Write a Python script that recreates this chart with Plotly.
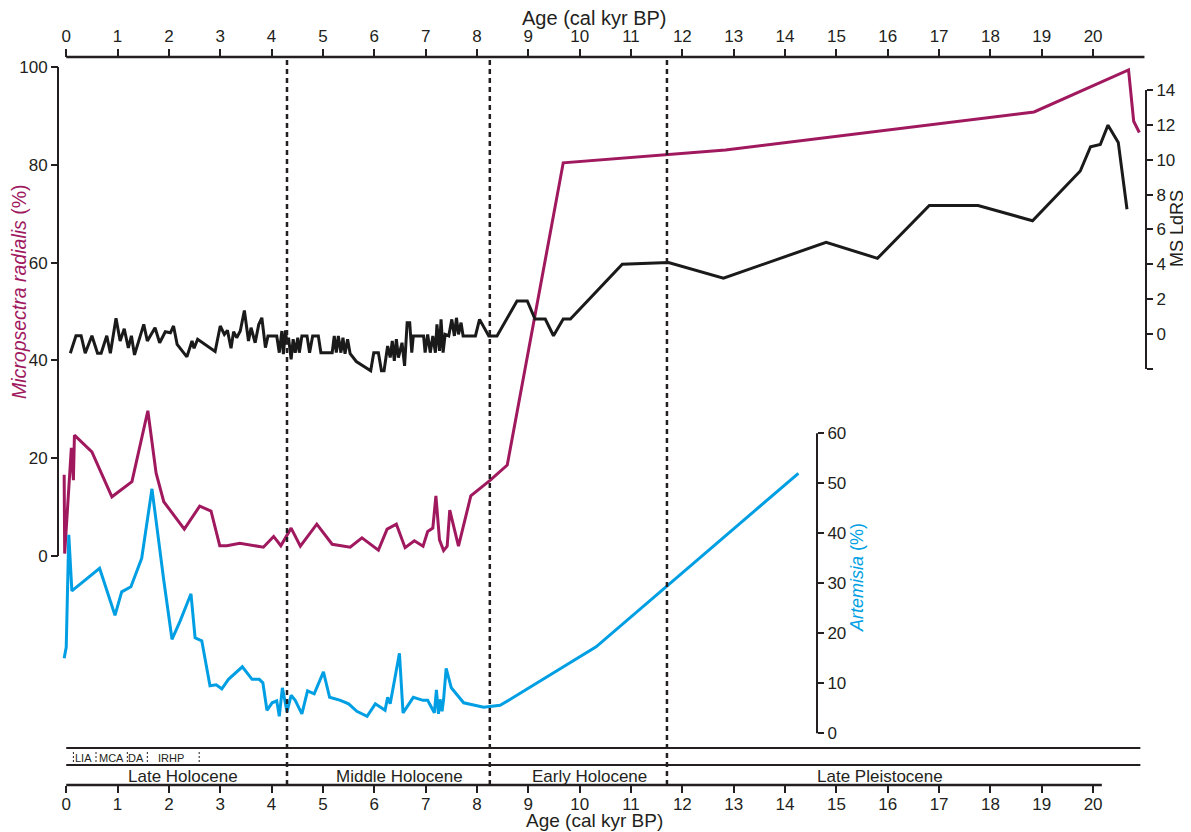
import plotly.graph_objects as go

# ---------------- data ----------------
micro_age = [-0.04, -0.03, 0.10, 0.14, 0.16, 0.50, 0.89, 1.28, 1.59, 1.75,
             1.90, 2.30, 2.60, 2.82, 2.99, 3.13, 3.38, 3.84, 4.04, 4.18,
             4.38, 4.56, 4.88, 5.18, 5.53, 5.76, 6.08, 6.25, 6.43, 6.60,
             6.78, 6.95, 7.04, 7.14, 7.20, 7.27, 7.35, 7.42, 7.47, 7.64,
             7.88, 8.26, 8.59, 9.68, 12.84, 18.85, 20.69, 20.79, 20.90]
micro_val = [16.6, 0.5, 22.1, 15.5, 24.7, 21.3, 12.1, 15.2, 29.7, 17.0,
             11.1, 5.5, 10.2, 9.2, 2.1, 2.1, 2.6, 1.8, 4.0, 2.1,
             5.7, 2.0, 6.5, 2.4, 1.8, 3.7, 1.2, 5.5, 6.5, 1.7,
             3.1, 2.0, 5.0, 5.7, 12.3, 3.3, 1.1, 2.0, 9.4, 2.0,
             12.3, 15.5, 18.6, 80.4, 83.0, 90.8, 99.4, 88.9, 86.6]

ms_age = [0.08, 0.19, 0.29, 0.37, 0.50, 0.61, 0.68, 0.79, 0.86, 0.97,
          1.05, 1.13, 1.21, 1.27, 1.33, 1.40, 1.51, 1.58, 1.73, 1.82,
          1.93, 2.03, 2.09, 2.16, 2.35, 2.45, 2.49, 2.56, 2.90, 3.00,
          3.08, 3.14, 3.21, 3.26, 3.32, 3.39, 3.47, 3.55, 3.60, 3.68,
          3.75, 3.81, 3.88, 3.93, 4.10, 4.15, 4.20, 4.23, 4.27, 4.30,
          4.33, 4.38, 4.42, 4.46, 4.51, 4.54, 4.59, 4.69, 4.74, 4.80,
          4.91, 4.96, 5.18, 5.22, 5.26, 5.30, 5.35, 5.39, 5.43, 5.48,
          5.53, 5.65, 5.93, 5.99, 6.08, 6.14, 6.19, 6.26, 6.31, 6.35,
          6.39, 6.43, 6.47, 6.54, 6.59, 6.64, 6.69, 6.73, 6.76, 6.96,
          6.99, 7.04, 7.09, 7.14, 7.19, 7.22, 7.27, 7.30, 7.34, 7.38,
          7.45, 7.51, 7.56, 7.60, 7.64, 7.69, 7.73, 7.97, 8.05, 8.23,
          8.39, 8.78, 8.98, 9.13, 9.33, 9.49, 9.68, 9.82, 10.83, 11.73,
          12.80, 14.80, 15.80, 16.81, 17.76, 18.82, 19.75, 19.95, 20.14, 20.29,
          20.49, 20.66]
ms_val = [-1.1, -0.1, -0.1, -1.1, -0.1, -1.1, -1.1, -0.1, -1.1, 0.9,
          -0.4, 0.3, -0.8, -0.1, -1.2, -0.55, 0.55, -0.4, 0.36, -0.5,
          0.13, 0.07, 0.46, -0.59, -1.31, -0.4, -0.82, -0.3, -1.0, 0.46,
          -0.02, 0.21, -0.82, 0.13, -0.21, 0.17, 1.35, -0.4, 0.36, -0.5,
          0.55, 0.93, -0.78, -0.11, -0.11, -1.07, 0.17, -1.16, 0.21, -0.59,
          -0.21, -1.45, -0.3, -1.07, -0.21, -1.07, -0.11, -0.11, -1.07, -0.11,
          -0.11, -1.07, -1.07, -0.11, -1.07, -0.11, -1.07, -0.21, -1.13, -0.3,
          -1.13, -1.58, -2.11, -1.07, -1.07, -2.11, -2.11, -0.69, -1.35, -0.4,
          -1.54, -0.3, -1.35, -0.5, -1.83, 0.65, 0.65, -1.07, -0.11, -0.11,
          -1.07, -0.02, -1.07, -0.11, -1.07, 0.55, -0.97, 0.84, -1.07, -0.02,
          -0.11, 0.84, -0.11, 0.93, -0.02, 0.65, -0.11, -0.11, 0.84, -0.11,
          -0.11, 1.9, 1.9, 0.86, 0.86, -0.1, 0.86, 0.86, 4.0, 4.1,
          3.2, 5.26, 4.34, 7.37, 7.37, 6.5, 9.35, 10.74, 10.87, 11.98,
          10.99, 7.16]

art_age = [-0.04, 0.00, 0.05, 0.11, 0.65, 0.95, 1.08, 1.26, 1.47, 1.67,
           1.90, 2.06, 2.22, 2.43, 2.51, 2.64, 2.80, 2.92, 3.03, 3.16,
           3.43, 3.62, 3.76, 3.83, 3.91, 4.01, 4.10, 4.15, 4.21, 4.30,
           4.38, 4.46, 4.59, 4.70, 4.83, 5.01, 5.13, 5.34, 5.50, 5.66,
           5.86, 6.02, 6.21, 6.26, 6.31, 6.49, 6.56, 6.76, 6.95, 7.04,
           7.17, 7.21, 7.25, 7.28, 7.32, 7.35, 7.40, 7.50, 7.74, 8.13,
           8.45, 8.65, 10.32, 14.26]
art_val = [15.0, 17.2, 39.7, 28.5, 33.0, 23.6, 28.3, 29.3, 35.0, 48.9,
           30.6, 18.8, 22.5, 27.9, 19.1, 18.5, 9.5, 9.7, 8.9, 10.8,
           13.3, 10.8, 10.8, 10.1, 4.6, 6.1, 6.5, 3.4, 9.1, 4.3,
           7.6, 6.6, 3.9, 8.5, 7.9, 12.3, 7.2, 6.6, 5.9, 4.4,
           3.4, 5.9, 4.6, 7.2, 5.9, 16.0, 4.1, 7.2, 6.6, 6.6,
           4.1, 8.7, 3.9, 6.8, 4.4, 6.8, 13.0, 9.1, 6.1, 5.2,
           5.6, 6.8, 17.3, 52.0]

age_ticks = list(range(0, 21))
micro_ticks = [0, 20, 40, 60, 80, 100]
art_ticks = [0, 10, 20, 30, 40, 50, 60]
ms_ticks = [-2, 0, 2, 4, 6, 8, 10, 12, 14]
ms_ticktext = ["", "0", "2", "4", "6", "8", "10", "12", "14"]

boundaries = [4.3, 8.25, 11.7]
periods = ["Late Holocene", "Middle Holocene", "Early Holocene", "Late Pleistocene"]
period_pos = [2.27, 6.49, 10.2, 15.85]
events = ["LIA", "MCA", "DA", "IRHP"]
event_pos = [0.33, 0.89, 1.36, 2.05]
event_edges = [0.14, 0.58, 1.19, 1.58, 2.59]

# ---------------- style ----------------
PURPLE = "#A0195F"
BLUE = "#009FE3"
BLACK = "#1A1A1A"
AXC = "#231F20"
FONT = "Liberation Sans, Arial, sans-serif"

# page body has an 8px margin, so the figure starts 8px into the window
OFF = 8
W, H = 1183, 824
PL, PR, PT, PB = 58, 1146, 57, 785          # plot area in window pixels
L, R, T, B = PL - OFF, W - (PR - OFF), PT - OFF, H - (PB - OFF)
PW, PH = PR - PL, PB - PT


def px2x(px):
    return (px - PL) / PW


def py2y(py):
    return (PB - py) / PH


xr = [-0.16, 21.03]

fig = go.Figure()
fig.add_trace(go.Scatter(x=micro_age, y=micro_val, mode="lines", yaxis="y",
                         line=dict(color=PURPLE, width=3), showlegend=False))
fig.add_trace(go.Scatter(x=art_age, y=art_val, mode="lines", yaxis="y2",
                         line=dict(color=BLUE, width=3), showlegend=False))
fig.add_trace(go.Scatter(x=ms_age, y=ms_val, mode="lines", yaxis="y3",
                         line=dict(color=BLACK, width=3), showlegend=False))
# anchor trace for the top age axis
fig.add_trace(go.Scatter(x=[0], y=[-1000], xaxis="x2", yaxis="y", mode="markers",
                         marker=dict(opacity=0), showlegend=False, hoverinfo="skip"))

tickfont = dict(family=FONT, size=17, color=AXC)

fig.update_layout(
    width=W, height=H,
    margin=dict(l=L, r=R, t=T, b=B, autoexpand=False),
    paper_bgcolor="white", plot_bgcolor="white",
    font=dict(family=FONT, color=AXC),
    xaxis=dict(range=xr, domain=[0, 1], anchor="free", position=0,
               tickvals=age_ticks, ticks="outside", ticklen=7, tickwidth=2,
               ticklabelstandoff=-3,
               tickcolor=AXC, showline=False, showgrid=False, zeroline=False,
               tickfont=tickfont),
    xaxis2=dict(range=xr, overlaying="x", side="top", anchor="free", position=1,
                tickvals=age_ticks, ticks="outside", ticklen=8, tickwidth=2,
                tickcolor=AXC, showline=False, showgrid=False, zeroline=False,
                tickfont=tickfont),
    yaxis=dict(range=[-46.83, 102.04], anchor="free", position=0, side="left",
               tickvals=micro_ticks, ticks="outside", ticklen=7, tickwidth=2,
               tickcolor=AXC, showline=False, showgrid=False, zeroline=False,
               tickfont=tickfont),
    yaxis2=dict(range=[-10.34, 135.27], overlaying="y", anchor="free",
                position=px2x(817), side="right",
                tickvals=art_ticks, ticks="outside", ticklen=6, tickwidth=2,
                tickcolor=AXC, showline=False, showgrid=False, zeroline=False,
                tickfont=tickfont),
    yaxis3=dict(range=[-25.87, 15.89], overlaying="y", anchor="free",
                position=1, side="right",
                tickvals=ms_ticks, ticktext=ms_ticktext, ticks="outside",
                ticklen=6, tickwidth=2, tickcolor=AXC, showline=False,
                showgrid=False, zeroline=False, tickfont=tickfont),
)

shapes = []
# axis spines
shapes.append(dict(type="line", xref="paper", yref="y", x0=0, x1=0, y0=0, y1=100,
                   line=dict(color=AXC, width=2)))
shapes.append(dict(type="line", xref="paper", yref="y2", x0=px2x(817), x1=px2x(817),
                   y0=0, y1=60, line=dict(color=AXC, width=2)))
shapes.append(dict(type="line", xref="paper", yref="y3", x0=1, x1=1, y0=-2, y1=14,
                   line=dict(color=AXC, width=2)))
shapes.append(dict(type="line", xref="x", yref="paper", x0=0, x1=20.17, y0=0, y1=0,
                   line=dict(color=AXC, width=2.5)))
shapes.append(dict(type="line", xref="x", yref="paper", x0=0, x1=21.0, y0=1, y1=1,
                   line=dict(color=AXC, width=2.5)))
# chronozone band lines
for py in (748, 765):
    shapes.append(dict(type="line", xref="x", yref="paper", x0=0, x1=20.92,
                       y0=py2y(py), y1=py2y(py),
                       line=dict(color=AXC, width=2)))
# climate events separators
for e in event_edges:
    shapes.append(dict(type="line", xref="x", yref="paper", x0=e, x1=e,
                       y0=py2y(766), y1=py2y(750),
                       line=dict(color=AXC, width=1, dash="2px,2px")))
# period boundaries
for bnd in boundaries:
    shapes.append(dict(type="line", xref="x", yref="paper", x0=bnd, x1=bnd,
                       y0=0, y1=1, line=dict(color=AXC, width=2.5, dash="5px,4px")))
fig.update_layout(shapes=shapes)

ann = []
ann.append(dict(text="Age (cal kyr BP)", xref="paper", yref="paper",
                x=px2x(594), y=py2y(18), showarrow=False,
                xanchor="center", yanchor="middle",
                font=dict(size=20, color=AXC)))
ann.append(dict(text="Age (cal kyr BP)", xref="paper", yref="paper",
                x=px2x(594), y=py2y(832), showarrow=False,
                xanchor="center", yanchor="bottom", borderpad=0,
                font=dict(size=19, color=AXC)))
ann.append(dict(text="<i>Micropsectra radialis</i> (%)", xref="paper", yref="paper",
                x=px2x(19), y=py2y(292), showarrow=False,
                textangle=-90, xanchor="center", yanchor="middle",
                font=dict(size=19.5, color=PURPLE)))
ann.append(dict(text="MS LdRS", xref="paper", yref="paper",
                x=px2x(1177), y=py2y(229), showarrow=False,
                textangle=-90, xanchor="center", yanchor="middle",
                font=dict(size=18, color=AXC)))
ann.append(dict(text="<i>Artemisia</i> (%)", xref="paper", yref="paper",
                x=px2x(857), y=py2y(578), showarrow=False,
                textangle=-90, xanchor="center", yanchor="middle",
                font=dict(size=18, color=BLUE)))
for name, pos in zip(periods, period_pos):
    ann.append(dict(text=name, xref="x", yref="paper", x=pos, y=py2y(776),
                    showarrow=False, xanchor="center", yanchor="middle",
                    font=dict(size=17, color=AXC)))
for name, pos in zip(events, event_pos):
    ann.append(dict(text=name, xref="x", yref="paper", x=pos, y=py2y(758),
                    showarrow=False, xanchor="center", yanchor="middle",
                    font=dict(size=11, color=AXC)))
fig.update_layout(annotations=ann)

fig.write_html("out.html")
